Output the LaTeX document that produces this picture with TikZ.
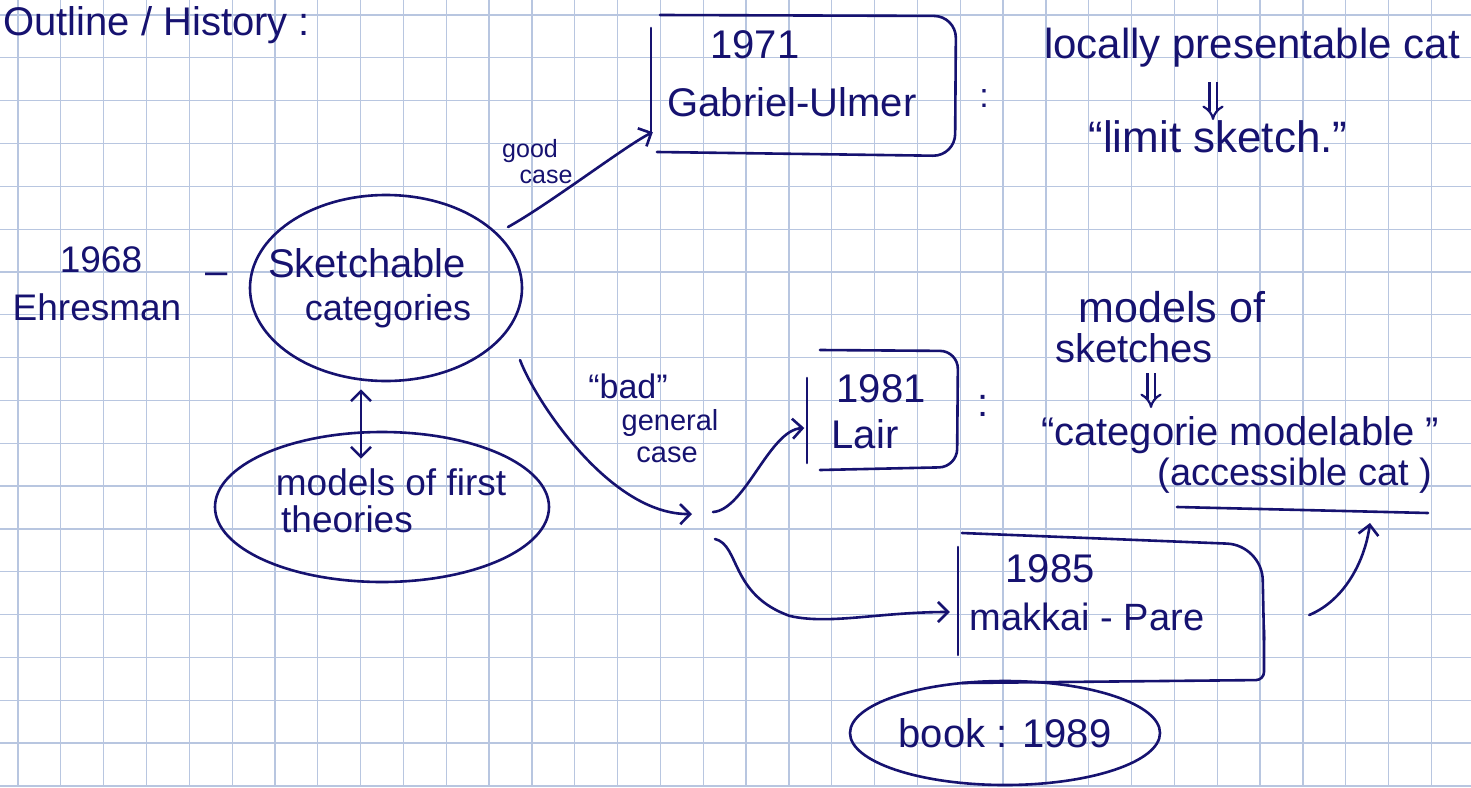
\documentclass[tikz,border=0pt]{standalone}
\usepackage{fontspec}
\setmainfont{Liberation Sans}
\usetikzlibrary{arrows.meta,calc,shapes.geometric}
\definecolor{ink}{RGB}{22,18,112}
\definecolor{gridc}{RGB}{184,198,224}
\begin{document}
\begin{tikzpicture}[x=1pt,y=-1pt,
  txt/.style={text=ink, inner sep=0pt, anchor=base, font=\fontsize{40}{44}\selectfont},
  smalltxt/.style={txt, font=\fontsize{25}{28}\selectfont},
  ink line/.style={draw=ink, line width=2.6pt, line cap=round, line join=round},
  barb/.style={ink line, -{Straight Barb[length=10pt,width=20pt]}},
  dbarb/.style={ink line, {Straight Barb[length=10pt,width=20pt]}-{Straight Barb[length=10pt,width=20pt]}},
  implies/.style={draw=ink, line width=2.2pt, double=white, double distance=5pt, -{Implies}},
  blob/.style={ellipse, ink line, inner sep=0pt},
  frame/.style={inner sep=0pt}
]
\useasboundingbox (0,0) rectangle (1471,787);
\fill[white] (0,0) rectangle (1471,787);
\begin{scope}
\clip (0,0) rectangle (1471,787);
\foreach \i in {0,...,33} \draw[gridc, line width=1.3pt] ({18+\i*42.83},0) -- ({18+\i*42.83},787);
\foreach \j in {0,...,18} \draw[gridc, line width=1.3pt] (0,{15+\j*42.83}) -- (1471,{15+\j*42.83});
\end{scope}
\node[txt, anchor=base west, font=\fontsize{40}{44}\selectfont] (title) at (3,35) {Outline / History :};

% Ehresmann
\node[txt, font=\fontsize{37}{40}\selectfont] (y68) at (101,272) {1968};
\node[txt, font=\fontsize{37}{40}\selectfont] (ehr) at (97,320) {Ehresman};
\node[txt] (dash) at (217,284) {–};

% sketchable categories
\node[blob, minimum width=272pt, minimum height=186pt] (sk) at (386,288) {};
\node[txt] (sk1) at (367,277) {Sketchable};
\node[txt, font=\fontsize{36}{40}\selectfont] (sk2) at (388,320) {categories};

% models of first order theories
\node[blob, minimum width=334pt, minimum height=150pt] (mt) at (382,507) {};
\node[txt, font=\fontsize{37}{40}\selectfont] (mt1) at (391,495) {models of first};
\node[txt, font=\fontsize{37}{40}\selectfont] (mt2) at (347,532) {theories};
\draw[dbarb] ($(sk.south)+(-25,7)$) -- ($(mt.north)+(-21,28)$);

% Gabriel-Ulmer
\node[frame, minimum width=306pt, minimum height=142pt] (gu) at (804,86) {};
\draw[ink line] (651,28) -- (651,133);
\draw[ink line, rounded corners=22pt] (660,15) -- (956,16) -- (955,156) -- (657,152);
\node[txt] (gu1) at (755,58) {1971};
\node[txt] (gu2) at (792,116) {Gabriel-Ulmer};
\node[txt, font=\fontsize{34}{36}\selectfont] (c1) at (984,107) {:};

\draw[barb] ($(sk.center)+(122,-61)$) .. controls +(40,-22) and +(-25,12) .. ($(gu.south west)+(2,-25)$);
\node[smalltxt] (good) at (530,157) {good};
\node[smalltxt] (gcase) at (546,183) {case};

\node[txt, font=\fontsize{42}{46}\selectfont] (lp) at (1252,58) {locally presentable cat};
\coordinate (i1) at (1213,82);
\coordinate (i2) at (1213,120);
\draw[implies] (i1) -- (i2);
\node[txt, font=\fontsize{44}{48}\selectfont] (ls) at (1218,152) {“limit sketch.”};

% bad general case
\coordinate (bad) at (692,514);
\draw[barb] ($(sk.center)+(134,72)$) .. controls +(15,40) and +(-82,1) .. (bad);
\node[txt, font=\fontsize{34}{36}\selectfont] (bd1) at (628,398) {“bad”};
\node[txt, font=\fontsize{29}{32}\selectfont] (bd2) at (670,430) {general};
\node[txt, font=\fontsize{29}{32}\selectfont] (bd3) at (667,462) {case};

% Lair
\node[frame, minimum width=151pt, minimum height=120pt] (la) at (882,410) {};
\draw[ink line] (807,378) -- (807,463);
\draw[ink line, rounded corners=18pt] (820,350) -- (958,351) -- (957,467) -- (820,470);
\node[txt] (la1) at (881,402) {1981};
\node[txt] (la2) at (865,448) {Lair};
\node[txt] (c2) at (983,416) {:};

\coordinate (s1) at (713,512);
\coordinate (s2) at (715,539);
\coordinate (bend) at (790,616);
\draw[barb] (s1) .. controls +(32,-2) and +(-35,2) .. ($(la.west)+(-2,18)$);

% models of sketches
\node[txt, font=\fontsize{43}{46}\selectfont] (ms1) at (1172,322) {models of};
\node[txt] (ms2) at (1134,362) {sketches};
\coordinate (i3) at (1151,373);
\coordinate (i4) at (1151,408);
\draw[implies] (i3) -- (i4);
\node[txt] (cm) at (1240,445) {“categorie modelable ”};
\node[txt, font=\fontsize{38}{42}\selectfont] (acc) at (1295,485) {(accessible cat )};
\draw[ink line] (1177,507) -- (1428,513);

% Makkai-Pare
\node[frame, minimum width=306pt, minimum height=150pt] (mp) at (1111,608) {};
\draw[ink line] (958,547) -- (958,655);
\draw[ink line, rounded corners=35pt] (962,533) -- (1262,545) -- (1264,640);
\draw[ink line, rounded corners=8pt] (1264,630) -- (1264,680) -- (962,683);
\node[txt] (mp1) at (1050,582) {1985};
\node[txt, font=\fontsize{38}{42}\selectfont] (mp2) at (1087,630) {makkai - Pare};

\draw[barb] (s2) .. controls +(25,6) and +(-60,-21) .. (bend) .. controls +(40,9) and +(-70,0) .. ($(mp.west)+(-8,4)$);
\draw[barb] ($(mp.east)+(45,7)$) .. controls +(36,-15) and +(-5,37) .. ($(acc.base)+(75,38)$);

% book
\node[blob, minimum width=310pt, minimum height=104pt, text=ink, font=\fontsize{40}{44}\selectfont] (bk) at (1005,733) {book : 1989};
\end{tikzpicture}
\end{document}
